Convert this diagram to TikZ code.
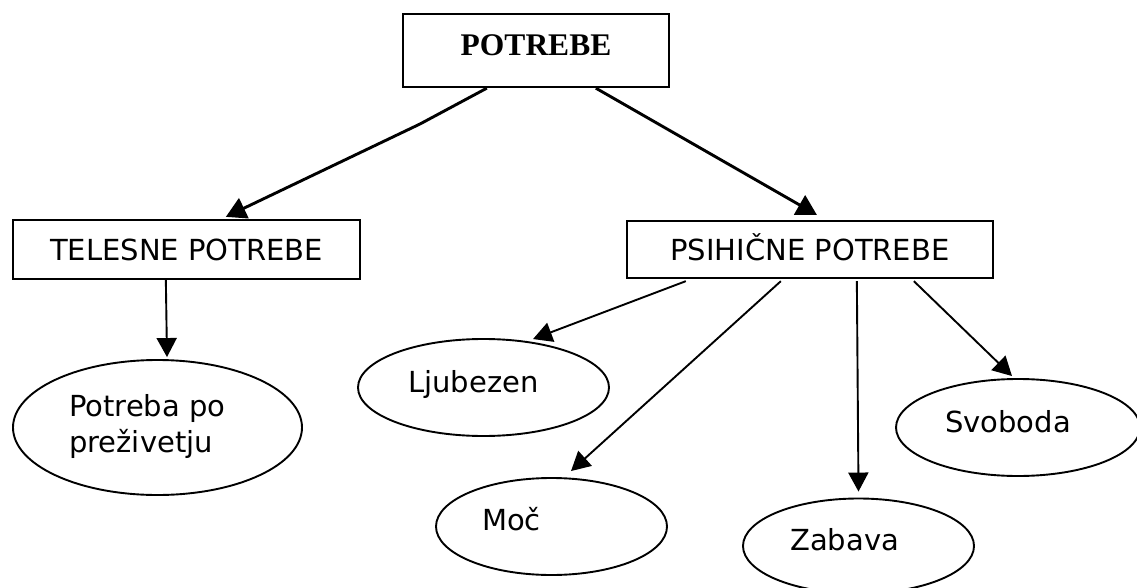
\documentclass[tikz,border=0pt]{standalone}
\usepackage{fontspec}
\setmainfont{DejaVu Sans}
\newfontfamily\tnrfont{Liberation Serif}
\usetikzlibrary{arrows.meta,calc,shapes.geometric}
\begin{document}
\begin{tikzpicture}[x=1pt,y=-1pt,
  box/.style={draw, line width=2.3pt, rectangle, inner sep=0pt,
    font=\fontsize{29}{35}\selectfont, text height=21pt, text depth=0pt},
  oval/.style={draw, line width=1.9pt, ellipse, inner sep=0pt},
  lbl/.style={anchor=base west, inner sep=0pt, font=\fontsize{29}{36}\selectfont},
  bigarrow/.style={line width=2.9pt, -{Triangle[length=20pt,width=22pt]}},
  arr/.style={line width=1.9pt, -{Triangle[length=19pt,width=20pt]}}
]
\useasboundingbox (0,0) rectangle (1137,588);
\clip (0,0) rectangle (1137,588);
\fill[white] (0,0) rectangle (1137,588);

% boxes
\node[box, minimum width=266pt, minimum height=73pt,
  font=\tnrfont\bfseries\fontsize{31.5}{36}\selectfont, text height=23pt, text depth=12pt]
  (potrebe) at (536,50.5) {POTREBE};
\node[box, minimum width=347pt, minimum height=59pt] (tel) at (186.5,249.5) {TELESNE POTREBE};
\node[box, minimum width=366pt, minimum height=57pt] (psi) at (810,249.5) {PSIHIČNE POTREBE};

% ellipses
\node[oval, minimum width=289pt, minimum height=135pt] (pot) at (157.5,427.5) {};
\node[oval, minimum width=251pt, minimum height=97pt] (lju) at (483.5,387.5) {};
\node[oval, minimum width=231pt, minimum height=97pt] (moc) at (551.5,526.5) {};
\node[oval, minimum width=244pt, minimum height=97pt] (svo) at (1018,427.5) {};
\node[oval, minimum width=231pt, minimum height=95pt] (zab) at (858.5,546) {};

% texts in ellipses
\node[lbl, align=left] (pott) at (69,452) {Potreba po\\preživetju};
\node[lbl] (ljut) at (408,392) {Ljubezen};
\node[lbl] (moct) at (482,530) {Moč};
\node[lbl] (svot) at (945,432) {Svoboda};
\node[lbl] (zabt) at (790,550) {Zabava};

% connectors
\coordinate (bend) at (420,124);
\draw[bigarrow] ($(potrebe.south west)+(85,0)$) -- (bend) -- ($(tel.north west)+(214,-2)$);
\draw[bigarrow] ($(potrebe.south west)+(194,0)$) -- ($(psi.north west)+(191,-5)$);
\draw[arr] ($(tel.south west)+(154,0)$) -- ($(pot.north)+(9.5,-2)$);
\draw[arr] ($(psi.south west)+(60,2)$) -- ($(lju.north)+(49.5,1)$);
\draw[arr] ($(psi.south west)+(155,2)$) -- ($(moc.north)+(19.5,-6)$);
\draw[arr] ($(psi.south west)+(231,2)$) -- ($(zab.north)+(0,-6)$);
\draw[arr] ($(psi.south west)+(288,2)$) -- ($(svo.north)+(-6,-2)$);
\end{tikzpicture}
\end{document}
